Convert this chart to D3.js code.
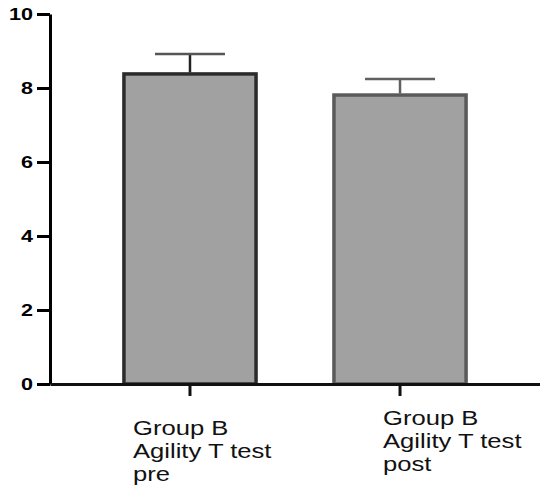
<!DOCTYPE html>
<html>
<head>
<meta charset="utf-8">
<script src="https://cdn.jsdelivr.net/npm/d3@7"></script>
<style>
  body { margin: 0; background: #fff; }
  text { font-family: "Liberation Sans", Arial, sans-serif; }
</style>
</head>
<body>
<script>
// data
var categories = ["pre", "post"];
var labelLines = [["Group B", "Agility T test", "pre"], ["Group B", "Agility T test", "post"]];
var means = [8.38, 7.81];
var sds = [0.54, 0.43];
var yTicks = [0, 2, 4, 6, 8, 10];

// styles / layout
var barStroke = ["#2b2b2b", "#5a5a5a"];
var stemStroke = ["#222", "#606060"];
var capStroke = ["#555", "#606060"];
var labelOffset = [{dx: -57, dy: 0}, {dx: -17, dy: -10}];

var width = 540, height = 489;
var svg = d3.select("body").append("svg")
    .attr("width", width)
    .attr("height", height);

var x = d3.scaleBand()
    .domain(categories)
    .range([50, 540])
    .paddingInner(0.371)
    .paddingOuter(0.352);

var y = d3.scaleLinear()
    .domain([0, 10])
    .range([384, 14]);

var data = categories.map(function(c, i) {
  return {cat: c, mean: means[i], sd: sds[i], i: i};
});

// bars
svg.selectAll(".bar")
    .data(data)
    .enter().append("rect")
    .attr("class", "bar")
    .attr("x", function(d) { return x(d.cat); })
    .attr("y", function(d) { return y(d.mean); })
    .attr("width", x.bandwidth())
    .attr("height", function(d) { return y(0) - y(d.mean); })
    .style("fill", "#a1a1a1")
    .style("stroke", function(d) { return barStroke[d.i]; })
    .style("stroke-width", 3.5);

// error bars (upper only)
svg.selectAll(".stem")
    .data(data)
    .enter().append("line")
    .attr("x1", function(d) { return x(d.cat) + x.bandwidth() / 2; })
    .attr("x2", function(d) { return x(d.cat) + x.bandwidth() / 2; })
    .attr("y1", function(d) { return y(d.mean) - 1.5; })
    .attr("y2", function(d) { return y(d.mean + d.sd); })
    .style("stroke", function(d) { return stemStroke[d.i]; })
    .style("stroke-width", 2.5);

svg.selectAll(".cap")
    .data(data)
    .enter().append("line")
    .attr("x1", function(d) { return x(d.cat) + x.bandwidth() / 2 - 35; })
    .attr("x2", function(d) { return x(d.cat) + x.bandwidth() / 2 + 35; })
    .attr("y1", function(d) { return y(d.mean + d.sd); })
    .attr("y2", function(d) { return y(d.mean + d.sd); })
    .style("stroke", function(d) { return capStroke[d.i]; })
    .style("stroke-width", 2.5);

// y axis
var yAxis = svg.append("g")
    .attr("transform", "translate(50,0)")
    .call(d3.axisLeft(y).tickValues(yTicks).tickSize(13).tickSizeOuter(0));
yAxis.select(".domain").style("stroke", "#000").style("stroke-width", 3);
yAxis.selectAll(".tick line").style("stroke", "#000").style("stroke-width", 3);
yAxis.selectAll(".tick text")
    .attr("x", -17 / 1.35)
    .attr("dy", "0.36em")
    .attr("transform", "scale(1.35,1)")
    .style("font-size", "16px")
    .style("font-weight", "bold")
    .style("fill", "#000");

// x axis
var xAxis = svg.append("g")
    .attr("transform", "translate(0," + y(0) + ")")
    .call(d3.axisBottom(x).tickSize(12).tickSizeOuter(0).tickFormat(""));
xAxis.select(".domain").style("stroke", "#111").style("stroke-width", 3);
xAxis.selectAll(".tick line").style("stroke", "#111").style("stroke-width", 3);

// category labels
data.forEach(function(d) {
  var cx = x(d.cat) + x.bandwidth() / 2 + labelOffset[d.i].dx;
  var t = svg.append("text")
      .attr("transform", "translate(" + cx + "," + (435 + labelOffset[d.i].dy) + ") scale(1.22,1)")
      .style("font-size", "21px")
      .style("fill", "#111");
  labelLines[d.i].forEach(function(line, k) {
    t.append("tspan")
        .attr("x", 0)
        .attr("y", k * 23)
        .text(line);
  });
});
</script>
</body>
</html>
